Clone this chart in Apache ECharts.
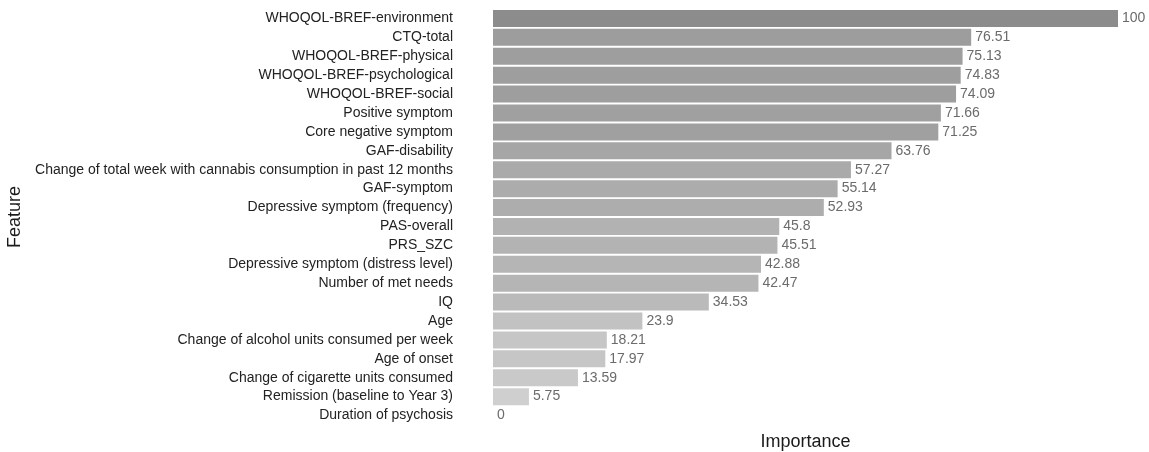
<!DOCTYPE html>
<html>
<head>
<meta charset="utf-8">
<script src="https://cdn.jsdelivr.net/npm/echarts@6/dist/echarts.min.js"></script>
<style>html,body{margin:0;padding:0;background:#fff}#c{width:1149px;height:452px}</style>
</head>
<body>
<div id="c"></div>
<script>
var categories = [
  "WHOQOL-BREF-environment",
  "CTQ-total",
  "WHOQOL-BREF-physical",
  "WHOQOL-BREF-psychological",
  "WHOQOL-BREF-social",
  "Positive symptom",
  "Core negative symptom",
  "GAF-disability",
  "Change of total week with cannabis consumption in past 12 months",
  "GAF-symptom",
  "Depressive symptom (frequency)",
  "PAS-overall",
  "PRS_SZC",
  "Depressive symptom (distress level)",
  "Number of met needs",
  "IQ",
  "Age",
  "Change of alcohol units consumed per week",
  "Age of onset",
  "Change of cigarette units consumed",
  "Remission (baseline to Year 3)",
  "Duration of psychosis"
];
var importance = [100, 76.51, 75.13, 74.83, 74.09, 71.66, 71.25, 63.76, 57.27, 55.14, 52.93, 45.8, 45.51, 42.88, 42.47, 34.53, 23.9, 18.21, 17.97, 13.59, 5.75, 0];

var chart = echarts.init(document.getElementById('c'), null, {renderer: 'canvas'});
chart.setOption({
  backgroundColor: '#ffffff',
  animation: false,
  grid: {left: 493, right: 31, top: 9, bottom: 27, containLabel: false, outerBoundsMode: 'none'},
  visualMap: {
    show: false, type: 'continuous', min: 0, max: 100, dimension: 0, seriesIndex: 0,
    inRange: {color: ['#d3d3d3', '#8c8c8c']}
  },
  xAxis: {
    type: 'value', min: 0, max: 100,
    name: 'Importance', nameLocation: 'middle', nameGap: 8,
    nameTextStyle: {fontFamily: 'Liberation Sans, Arial', fontSize: 18, color: '#1a1a1a'},
    axisLine: {show: false}, axisTick: {show: false}, axisLabel: {show: false}, splitLine: {show: false}
  },
  yAxis: {
    type: 'category', data: categories, inverse: true,
    name: 'Feature', nameLocation: 'middle', nameGap: 466, nameRotate: 90,
    nameTextStyle: {fontFamily: 'Liberation Sans, Arial', fontSize: 18, color: '#1a1a1a'},
    axisLine: {show: false}, axisTick: {show: false}, splitLine: {show: false},
    axisLabel: {fontFamily: 'Liberation Sans, Arial', fontSize: 14, color: '#222', margin: 40}
  },
  series: [{
    type: 'bar', data: importance, barCategoryGap: '10%',
    label: {show: true, position: 'right', distance: 4, color: '#6b6b6b', fontFamily: 'Liberation Sans, Arial', fontSize: 14}
  }]
});
</script>
</body>
</html>
